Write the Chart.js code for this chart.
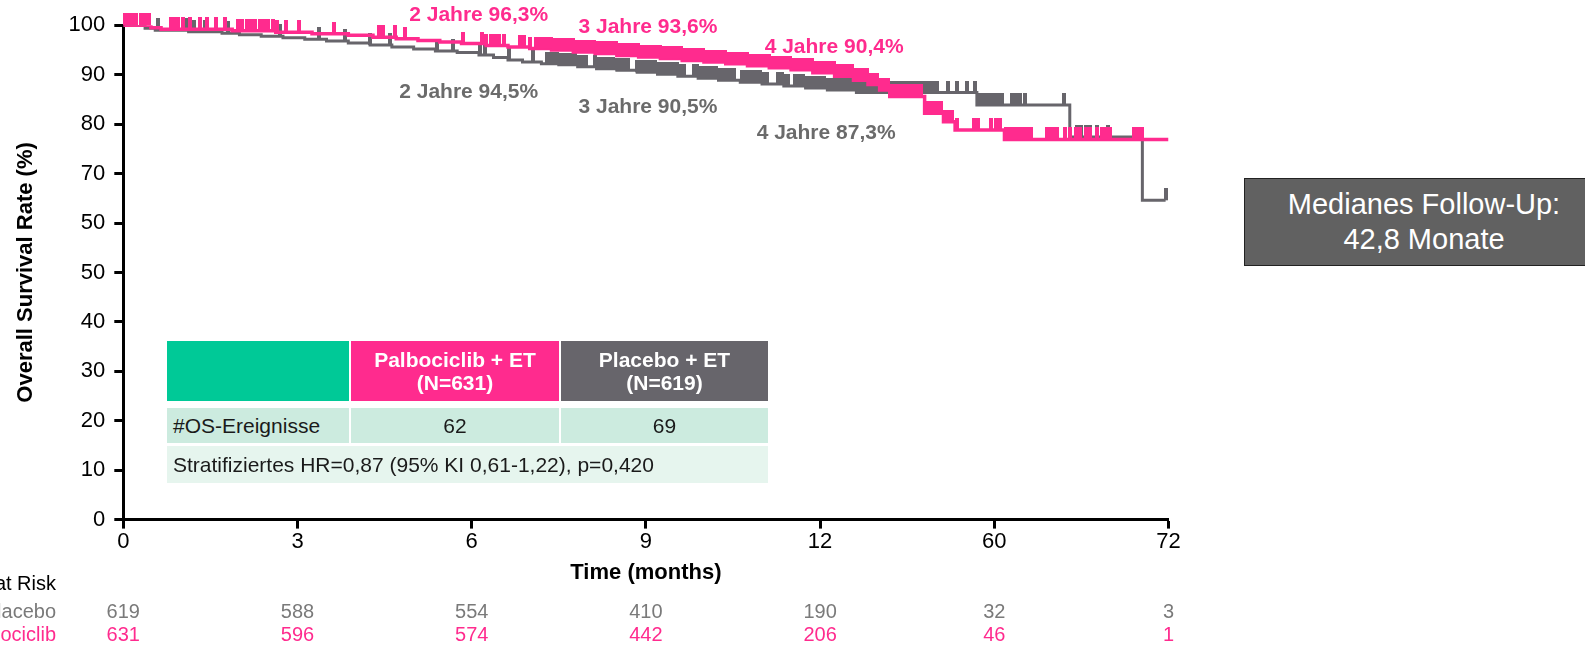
<!DOCTYPE html>
<html lang="de">
<head>
<meta charset="utf-8">
<script src="https://cdn.jsdelivr.net/npm/chart.js@4.4.1/dist/chart.umd.min.js"></script>
<style>
  html, body { margin: 0; padding: 0; background: #fff; }
  #wrap { position: relative; width: 1585px; height: 648px; overflow: hidden;
          font-family: "Liberation Sans", Arial, sans-serif; }
  #km { position: absolute; left: 0; top: 0; }
  .cell { position: absolute; box-sizing: border-box; display: flex; align-items: center;
          font-size: 21px; color: #1a1a1a; }
  .hdr { justify-content: center; text-align: center; color: #fff; font-weight: bold; line-height: 23px; }
  .num { justify-content: center; }
  .lbl { padding-left: 6px; }
  #fu { position: absolute; left: 1244px; top: 178px; width: 360px; height: 88px; box-sizing: border-box;
        background: #616161; border: 1.5px solid #222; color: #fff; font-size: 29px; line-height: 35px;
        display: flex; flex-direction: column; justify-content: center; align-items: center; }
  #fu span { display: block; }
  #fu .inner { width: 341px; text-align: center; }
</style>
</head>
<body>
<div id="wrap">
  <canvas id="km" width="1585" height="648"></canvas>

  <div class="cell" style="left:167px;top:341px;width:182px;height:60px;background:#00C997;"></div>
  <div class="cell hdr" style="left:351px;top:341px;width:208px;height:60px;background:#FF2B8E;">Palbociclib + ET<br>(N=631)</div>
  <div class="cell hdr" style="left:561px;top:341px;width:207px;height:60px;background:#67656B;">Placebo + ET<br>(N=619)</div>

  <div class="cell lbl" style="left:167px;top:408px;width:182px;height:35px;background:#CCEBDF;">#OS-Ereignisse</div>
  <div class="cell num" id="evPalbo" style="left:351px;top:408px;width:208px;height:35px;background:#CCEBDF;"></div>
  <div class="cell num" id="evPlacebo" style="left:561px;top:408px;width:207px;height:35px;background:#CCEBDF;"></div>

  <div class="cell lbl" style="left:167px;top:446px;width:601px;height:37px;background:#E6F5EE;">Stratifiziertes HR=0,87 (95% KI 0,61-1,22), p=0,420</div>

  <div id="fu"><div class="inner"><span>Medianes Follow-Up:</span><span>42,8 Monate</span></div></div>
</div>

<script>
// ---- Kaplan-Meier data (months, overall survival %) ----
const palboTimes = [0, 1.9, 2.6, 7.5, 10.5, 13.0, 15.5, 17.2, 18.8, 20.3, 21.8, 23.3, 25.0, 26.5, 28.0, 29.5,
  31.0, 32.5, 34.0, 35.5, 37.0, 38.5, 40.0, 41.5, 43.0, 44.5, 46.0, 47.5, 49.0, 50.3, 51.3, 52.1, 52.8,
  55.2, 56.5, 57.3, 60.7, 72];
const palboSurv = [100, 99.5, 99.2, 98.9, 98.6, 98.3, 98.0, 97.6, 97.3, 96.9, 96.6, 96.3, 95.9, 95.6, 95.3, 95.0,
  94.6, 94.3, 93.9, 93.6, 93.3, 92.9, 92.6, 92.2, 91.8, 91.4, 91.0, 90.4, 89.7, 88.9, 88.0, 86.9, 85.6,
  82.2, 80.5, 78.8, 76.9, 76.9];

const placeboTimes = [0, 1.5, 2.2, 4.5, 6.8, 8.0, 9.5, 11.0, 12.5, 14.0, 15.5, 17.0, 18.5, 20.0, 21.5, 23.0,
  24.5, 25.5, 26.5, 27.5, 28.8, 30.0, 31.3, 32.6, 34.0, 35.4, 36.8, 38.2, 39.6, 41.0, 42.5, 44.0, 45.5,
  47.0, 48.5, 50.5, 58.8, 65.2, 70.2, 71.8];
const placeboSurv = [100, 99.4, 99.0, 98.7, 98.4, 98.1, 97.8, 97.5, 97.2, 96.8, 96.4, 96.0, 95.6, 95.2, 94.8, 94.5,
  94.0, 93.5, 93.0, 92.6, 92.2, 92.0, 91.6, 91.2, 90.9, 90.5, 90.1, 89.7, 89.3, 88.9, 88.5, 88.1, 87.7,
  87.3, 86.9, 86.4, 83.9, 77.4, 64.6, 64.6];

// censored observations (months)
const palboCensor = [0.1, 0.4, 0.7, 0.9, 1.2, 1.5, 1.8, 3.3, 3.5, 3.8, 4.1, 4.6, 5.3, 5.8, 6.4, 7.0,
  7.9, 8.2, 8.5, 8.8, 9.1, 9.4, 9.7, 10.0, 10.3, 10.6, 11.2, 12.1, 14.5, 17.6, 17.9, 18.7, 19.4, 23.4,
  24.7, 25.0, 25.3, 25.6, 25.9, 26.2, 27.3, 27.6, 28.0, 28.4, 28.7, 29.0,
  29.2, 29.45, 29.7, 29.95, 30.2, 30.45, 30.7, 30.95, 31.2, 31.45, 31.7, 31.95, 32.2, 32.45, 32.7, 32.95,
  33.2, 33.45, 33.7, 33.95, 34.2, 34.45, 34.7, 34.95, 35.2, 35.45, 35.7, 35.95, 36.2, 36.45, 36.7, 36.95,
  37.2, 37.45, 37.7, 37.95, 38.2, 38.45, 38.7, 38.95, 39.2, 39.45, 39.7, 39.95, 40.2, 40.45, 40.7, 40.95,
  41.2, 41.45, 41.7, 41.95, 42.2, 42.45, 42.7, 42.95, 43.2, 43.45, 43.7, 43.95, 44.2, 44.45, 44.7, 44.95,
  45.2, 45.45, 45.7, 45.95, 46.2, 46.45, 46.7, 46.95, 47.2, 47.45, 47.7, 47.95, 48.2, 48.45, 48.7, 48.95,
  49.2, 49.45, 49.7, 49.95, 50.2, 50.45, 50.7, 50.95, 51.2, 51.45, 51.7, 51.95, 52.2, 52.45, 52.7, 52.95,
  53.2, 53.45, 53.7, 53.95, 54.2, 54.45, 54.7, 54.95, 55.3, 55.55, 55.8, 56.05, 56.3, 56.6, 56.85, 57.1, 57.4,
  58.6, 58.9, 59.8, 60.1, 60.4, 60.8, 61.05, 61.3, 61.55, 61.8, 62.05, 62.3, 62.55,
  63.6, 63.85, 64.1, 64.35, 64.9, 65.2, 65.6, 65.9, 66.3, 66.6, 67.1, 67.4, 67.7, 68.0, 69.6, 69.9, 70.2];

const placeboCensor = [2.4, 4.3, 4.9, 5.6, 7.2, 10.8, 13.5, 15.3, 17.0, 18.4, 21.6, 22.7, 24.6, 24.9, 26.6,
  28.2, 29.2, 29.4, 29.65, 29.9, 30.15, 30.4, 30.65, 30.9, 31.15, 31.4, 31.65, 31.9, 32.5, 32.75, 33.0,
  33.25, 33.5, 33.75, 34.0, 34.25, 34.5, 34.8, 35.4, 35.65, 35.9, 36.15, 36.4, 36.65, 36.9, 37.15, 37.4,
  37.65, 37.9, 38.15, 38.4, 38.65, 39.3, 39.55, 39.8, 40.05, 40.3, 40.55, 40.8, 41.05, 41.3, 41.55, 41.8,
  42.05, 42.6, 42.85, 43.1, 43.35, 43.6, 43.85, 44.1, 44.35, 45.1, 45.35, 45.6, 45.8, 46.3, 46.55, 46.8,
  47.05, 47.3, 47.55, 47.8, 48.05, 48.3, 48.55, 48.8, 49.05, 49.3, 49.55, 49.8, 50.05, 50.3, 50.55, 50.8,
  51.05, 51.3, 51.55, 51.8, 52.05, 52.3, 52.8, 53.05, 53.3, 53.55, 53.8, 54.05, 54.3, 54.55, 54.8, 55.05,
  55.3, 55.55, 55.8, 56.05, 56.8, 57.4, 58.1, 58.7, 59.0, 59.25, 59.5, 59.75, 60.0, 60.25, 60.5, 61.2,
  61.5, 61.8, 62.1, 64.8, 65.7, 66.0, 66.3, 66.6, 67.1, 67.8, 71.8];

// axis tick labels as printed
const xTickLabels = ['0', '3', '6', '9', '12', '60', '72'];
const yTickLabels = ['0', '10', '20', '30', '40', '50', '50', '70', '80', '90', '100'];

// numbers at risk under the time axis
const riskMonths = [0, 12, 24, 36, 48, 60, 72];
const riskPlacebo = [619, 588, 554, 410, 190, 32, 3];
const riskPalbo = [631, 596, 574, 442, 206, 46, 1];

// landmark survival rates
const landmarkYears = [2, 3, 4];
const landmarkMonths = [24, 36, 48];
const palboLandmarks = [96.3, 93.6, 90.4];
const placeboLandmarks = [94.5, 90.5, 87.3];

// OS events per arm
const osEvents = { palbo: 62, placebo: 69 };

// ---- styles ----
const PINK = '#FF2B8E';
const GREY = '#67656B';
const FONT = '"Liberation Sans", Arial, sans-serif';

document.getElementById('evPalbo').textContent = osEvents.palbo;
document.getElementById('evPlacebo').textContent = osEvents.placebo;

function stepPoints(times, surv) {
  return times.map((t, i) => ({ x: t, y: surv[i] }));
}
function survivalAt(times, surv, t) {
  let v = surv[0];
  for (let i = 0; i < times.length; i++) { if (times[i] <= t) v = surv[i]; else break; }
  return v;
}
function censorPoints(censor, times, surv) {
  return censor.map(t => ({ x: t, y: survivalAt(times, surv, t) }));
}
// vertical censor tick that rises from the curve
function tickMark(color) {
  const c = document.createElement('canvas');
  c.width = 4; c.height = 24;
  const g = c.getContext('2d');
  g.fillStyle = color;
  g.fillRect(0, 0, 4, 12);
  return c;
}

const fmt = v => v.toFixed(1).replace('.', ',');

const landmarkPlugin = {
  id: 'landmarks',
  afterDraw(chart, args, opts) {
    const { ctx, scales: { x, y } } = chart;
    ctx.save();
    ctx.font = 'bold 21px ' + FONT;
    ctx.textAlign = 'center';
    ctx.textBaseline = 'middle';
    landmarkMonths.forEach((m, i) => {
      ctx.fillStyle = PINK;
      const [dxA, dyA] = opts.palboOffsets[i];
      ctx.fillText(landmarkYears[i] + ' Jahre ' + fmt(palboLandmarks[i]) + '%',
        x.getPixelForValue(m) + dxA, y.getPixelForValue(palboLandmarks[i]) + dyA);
      ctx.fillStyle = '#6B6B6B';
      const [dxB, dyB] = opts.placeboOffsets[i];
      ctx.fillText(landmarkYears[i] + ' Jahre ' + fmt(placeboLandmarks[i]) + '%',
        x.getPixelForValue(m) + dxB, y.getPixelForValue(placeboLandmarks[i]) + dyB);
    });
    ctx.restore();
  }
};

const atRiskPlugin = {
  id: 'atRisk',
  afterDraw(chart, args, opts) {
    const { ctx, scales: { x } } = chart;
    ctx.save();
    ctx.font = '20px ' + FONT;
    ctx.textBaseline = 'middle';
    ctx.textAlign = 'right';
    ctx.fillStyle = '#000';
    ctx.fillText('No. at Risk', opts.labelRight, opts.rowHeader);
    ctx.fillStyle = '#7A7A7A';
    ctx.fillText('Placebo', opts.labelRight, opts.rowPlacebo);
    ctx.fillStyle = PINK;
    ctx.fillText('Palbociclib', opts.labelRight, opts.rowPalbo);
    ctx.textAlign = 'center';
    riskMonths.forEach((m, i) => {
      const px = x.getPixelForValue(m);
      ctx.fillStyle = '#7A7A7A';
      ctx.fillText(String(riskPlacebo[i]), px, opts.rowPlacebo);
      ctx.fillStyle = PINK;
      ctx.fillText(String(riskPalbo[i]), px, opts.rowPalbo);
    });
    ctx.restore();
  }
};

Chart.defaults.font.family = FONT;

new Chart(document.getElementById('km'), {
  type: 'line',
  data: {
    datasets: [
      { label: 'Palbociclib zensiert', data: censorPoints(palboCensor, palboTimes, palboSurv),
        showLine: false, pointStyle: tickMark(PINK), pointRadius: 5, clip: false, order: 0 },
      { label: 'Palbociclib + ET', data: stepPoints(palboTimes, palboSurv), stepped: 'before',
        borderColor: PINK, borderWidth: 3.5, pointRadius: 0, fill: false, order: 1 },
      { label: 'Placebo zensiert', data: censorPoints(placeboCensor, placeboTimes, placeboSurv),
        showLine: false, pointStyle: tickMark(GREY), pointRadius: 5, clip: false, order: 2 },
      { label: 'Placebo + ET', data: stepPoints(placeboTimes, placeboSurv), stepped: 'before',
        borderColor: GREY, borderWidth: 3, pointRadius: 0, fill: false, order: 3 }
    ]
  },
  options: {
    responsive: false,
    animation: false,
    devicePixelRatio: 1,
    layout: { padding: { top: 25.3, right: 416.5, left: 0, bottom: 0 } },
    plugins: {
      legend: { display: false },
      tooltip: { enabled: false },
      landmarks: {
        palboOffsets: [[7, -28], [2, -30], [14, -26]],
        placeboOffsets: [[-3, 40], [2, 35], [6, 45]]
      },
      atRisk: { labelRight: 56, rowHeader: 584, rowPlacebo: 612, rowPalbo: 635 }
    },
    scales: {
      x: {
        type: 'linear', min: 0, max: 72,
        ticks: { stepSize: 12, autoSkip: false, maxRotation: 0, padding: 0, color: '#000',
                 font: { size: 22 }, callback: (v, i) => xTickLabels[i] },
        grid: { drawOnChartArea: false, drawTicks: true, tickLength: 9, tickWidth: 3, tickColor: '#000' },
        border: { display: true, color: '#000', width: 3 },
        title: { display: true, text: 'Time (months)', color: '#000',
                 font: { size: 22, weight: 'bold' }, padding: { top: 0, bottom: 62 } },
        afterFit: s => { s.height = 128.4; }
      },
      y: {
        min: 0, max: 100,
        ticks: { stepSize: 10, autoSkip: false, padding: 9, color: '#000',
                 font: { size: 22 }, callback: (v, i) => yTickLabels[i] },
        grid: { drawOnChartArea: false, drawTicks: true, tickLength: 9, tickWidth: 3, tickColor: '#000' },
        border: { display: true, color: '#000', width: 3 },
        title: { display: true, text: 'Overall Survival Rate (%)', color: '#000',
                 font: { size: 22, weight: 'bold' }, padding: { top: 13, bottom: 0 } },
        afterFit: s => { s.width = 123.3; }
      }
    }
  },
  plugins: [landmarkPlugin, atRiskPlugin]
});
</script>
</body>
</html>
